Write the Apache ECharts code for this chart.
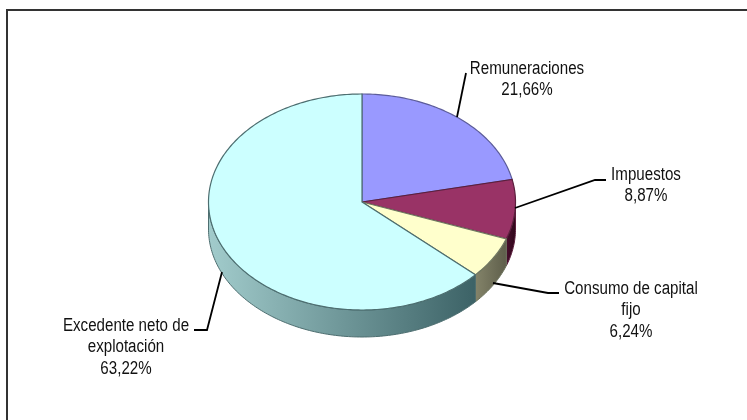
<!DOCTYPE html>
<html><head><meta charset="utf-8">
<style>html,body{margin:0;padding:0;background:#fff}#c{width:747px;height:420px}</style>
<script src="https://cdn.jsdelivr.net/npm/echarts@6/dist/echarts.min.js"></script>
</head><body><div id="c"></div>
<script>
const categories = ['Remuneraciones','Impuestos','Consumo de capital fijo','Excedente neto de explotación'];
const shares = [21.66, 8.87, 6.24, 63.22];
const labelLines = [['Remuneraciones','21,66%'],['Impuestos','8,87%'],['Consumo de capital','fijo','6,24%'],['Excedente neto de','explotación','63,22%']];
const topColors = ['#9999FF','#993366','#FFFFCC','#CCFFFF'];
const sideStops = [['#6a6a9c','#6a6a9c'],['#4a0f2e','#2e0819'],['#84846a','#5e5e4a'],['#a2cccc','#3c6266']];
const edgeColors = ['#5c5c9a','#5c1f3d','#6f7660','#4d6e70'];
const labelCentres = [[527,69],[646,175],[631,289],[126,326]];
const leaders = [
  [[457,117],[466,73]],
  [[515,208],[595,180],[606,180]],
  [[493,283],[548,293],[559,293]],
  [[222,272],[207,330],[194,330]]
];
const CX=362, CY=202, RX=153.5, RY=108, DEPTH=27, LINE_H=21.5, TEXT_SQUEEZE=0.84;
const total = shares.reduce((a,b)=>a+b,0);
const starts = []; shares.reduce((acc,v,i)=>{starts[i]=acc;return acc+v;},0);
const pt=(deg,dy)=>{const r=deg*Math.PI/180;return [CX+RX*Math.sin(r),CY-RY*Math.cos(r)+(dy||0)];};
function renderItem(params,api){
  const i=params.dataIndex;
  const a=api.value(1)/total*360, b=a+api.value(0)/total*360;
  const children=[];
  const sa=Math.max(a,90), sb=Math.min(b,270);
  if(sb>sa){
    const pts=[];
    for(let d=sa;d<sb;d+=1)pts.push(pt(d,0)); pts.push(pt(sb,0));
    for(let d=sb;d>sa;d-=1)pts.push(pt(d,DEPTH)); pts.push(pt(sa,DEPTH));
    const s=sideStops[i];
    children.push({type:'polygon',shape:{points:pts},z2:1,style:{
      fill:new echarts.graphic.LinearGradient(0,0,1,0,[{offset:0,color:s[0]},{offset:1,color:s[1]}]),
      stroke:edgeColors[i],lineWidth:1}});
  }
  const top=[[CX,CY]];
  for(let d=a;d<b;d+=1)top.push(pt(d,0)); top.push(pt(b,0));
  children.push({type:'polygon',shape:{points:top},z2:2,style:{fill:topColors[i],stroke:edgeColors[i],lineWidth:1.2}});
  children.push({type:'polyline',shape:{points:leaders[i]},z2:3,style:{fill:null,stroke:'#000',lineWidth:1.8}});
  labelLines[i].forEach((t,k)=>children.push({type:'text',z2:4,
    x:labelCentres[i][0],y:labelCentres[i][1]+k*LINE_H,scaleX:TEXT_SQUEEZE,
    style:{text:t,x:0,y:0,align:'center',verticalAlign:'middle',
    font:'18px "Liberation Sans",sans-serif',fill:'#111'}}));
  return {type:'group',children};
}
const chart=echarts.init(document.getElementById('c'),null,{renderer:'canvas'});
chart.setOption({
  animation:false,
  backgroundColor:'#fff',
  graphic:[
    {type:'line',silent:true,shape:{x1:6,y1:10,x2:747,y2:10},style:{stroke:'#333',lineWidth:2}},
    {type:'line',silent:true,shape:{x1:7,y1:9,x2:7,y2:420},style:{stroke:'#333',lineWidth:2}}
  ],
  series:[{type:'custom',coordinateSystem:'none',renderItem,
    data:categories.map((n,i)=>({name:n,value:[shares[i],starts[i]]}))}]
});
</script></body></html>
